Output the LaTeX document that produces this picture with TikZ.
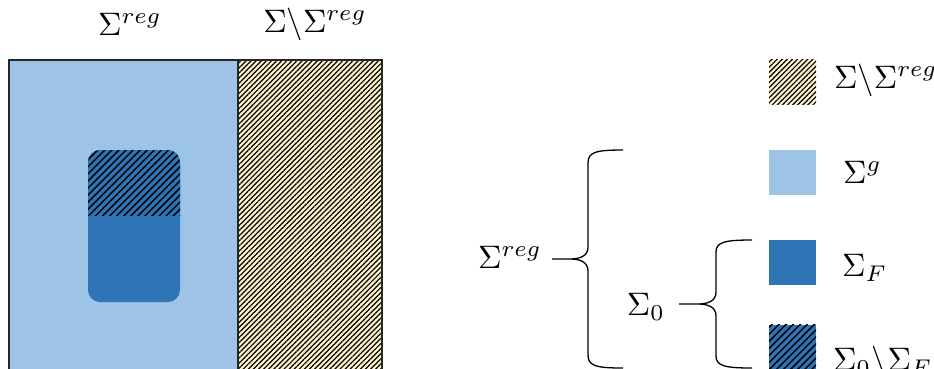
\documentclass[tikz,border=0pt]{standalone}
\usepackage{graphicx}
\usetikzlibrary{patterns.meta}
\definecolor{lightblue}{HTML}{9DC3E6}
\definecolor{darkblue}{HTML}{2E75B6}
\definecolor{beige}{HTML}{FFF2CC}
\newcommand{\bigmath}[1]{\scalebox{3.25}{$#1$}}
\begin{document}
\begin{tikzpicture}[x=1pt,y=-1pt,
  lbl/.style={inner sep=0pt},
  hatchbeige/.style={preaction={fill=beige},
    pattern={Lines[angle=45,distance=3.6pt,line width=1.2pt]}, pattern color=black},
  hatchblue/.style={preaction={fill=darkblue},
    pattern={Lines[angle=45,distance=5pt,line width=1.5pt]}, pattern color=black},
  key/.style={minimum width=47pt, minimum height=45pt, inner sep=0pt, outer sep=0pt, draw=none},
  brace/.style={draw=black, line width=1.3pt}]
\useasboundingbox (0,0) rectangle (934,368);

% regular part and its complement
\fill[lightblue] (9,60) rectangle (238,380);
\path[hatchbeige] (238,60) rectangle (382,380);
\draw[line width=1.4pt, draw=black!85] (9,380) -- (9,60) -- (382,60) -- (382,380);
\draw[line width=1.4pt, draw=black!85] (238,60) -- (238,380);

% inner region: Sigma_F with hatched Sigma_0 \ Sigma_F on top
\fill[darkblue, rounded corners=12pt] (88,150) rectangle (180,302);
\begin{scope}
  \clip[rounded corners=12pt] (88,150) rectangle (180,302);
  \path[hatchblue] (86,148) rectangle (182,215);
\end{scope}

% column labels
\node[lbl] (topreg) at (130,24) {\bigmath{\Sigma^{reg}}};
\node[lbl] (topcomp) at (315,24) {\bigmath{\Sigma\backslash\Sigma^{reg}}};

% legend keys
\node[key, hatchbeige] (k1) at (792.5,82) {};
\node[key, fill=lightblue] (k2) at (792.5,172.5) {};
\node[key, fill=darkblue] (k3) at (792.5,262.5) {};
\node[key, hatchblue] (k4) at (792.5,347) {};

% legend labels
\node[lbl, anchor=west] (l1) at (834,80) {\bigmath{\Sigma\backslash\Sigma^{reg}}};
\node[lbl, anchor=west] (l2) at (843,172) {\bigmath{\Sigma^{g}}};
\node[lbl, anchor=west] (l3) at (842,268) {\bigmath{\Sigma_F}};
\node[lbl, anchor=west] (l4) at (833,362) {\bigmath{\Sigma_0\backslash\Sigma_F}};

% grouping labels
\node[lbl] (greg) at (510,257) {\bigmath{\Sigma^{reg}}};
\node[lbl] (gzero) at (646,307) {\bigmath{\Sigma_0}};

% braces
\coordinate (bigtip) at (552,259);
\coordinate (smalltip) at (679,304);
\draw[brace] (623,150) .. controls (596,150) and (588,152) .. (588,163)
  -- (588,247) .. controls (588,256) and (580,259) .. (570,259) -- (bigtip)
  (570,259) .. controls (580,259) and (588,262) .. (588,271)
  -- (588,355) .. controls (588,366) and (596,368) .. (623,368);
\draw[brace] (752,240) .. controls (725,240) and (716,242) .. (716,252)
  -- (716,292) .. controls (716,301) and (708,304) .. (698,304) -- (smalltip)
  (698,304) .. controls (708,304) and (716,307) .. (716,316)
  -- (716,356) .. controls (716,366) and (725,368) .. (752,368);
\end{tikzpicture}
\end{document}
